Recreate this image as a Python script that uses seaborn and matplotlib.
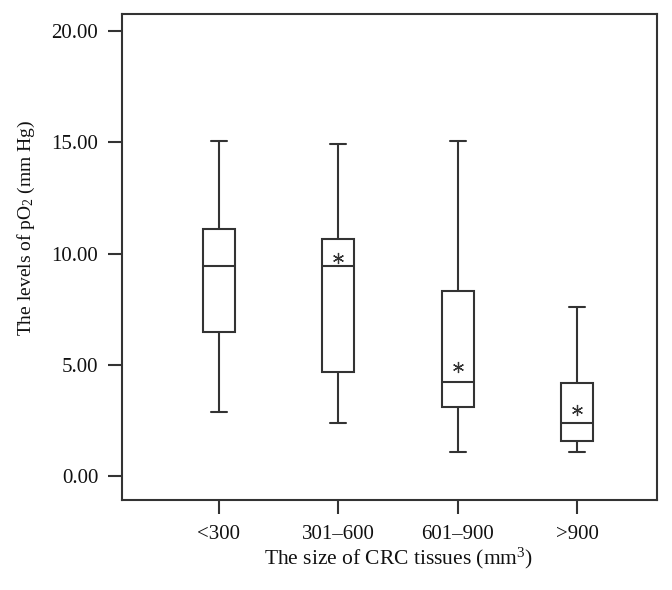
import matplotlib
matplotlib.use("Agg")
import matplotlib.pyplot as plt
import numpy as np
import pandas as pd
import seaborn as sns

# five-number summaries (lower whisker, Q1, median, Q3, upper whisker)
categories = ["<300", "301\u2013600", "601\u2013900", ">900"]
lower = [2.91, 2.38, 1.11, 1.11]
q1 = [6.47, 4.69, 3.12, 1.57]
median = [9.47, 9.47, 4.24, 2.40]
q3 = [11.10, 10.64, 8.31, 4.21]
upper = [15.07, 14.92, 15.07, 7.60]
# asterisk marks (no mark for the first group)
star_y = [np.nan, 9.83, 4.91, 2.97]

rows = []
for i, cat in enumerate(categories):
    for v in (lower[i], q1[i], median[i], q3[i], upper[i]):
        rows.append({"size": cat, "po2": v})
df = pd.DataFrame(rows)

sns.set_style("ticks")
plt.rcParams["font.family"] = ["Liberation Serif", "DejaVu Serif"]
plt.rcParams["mathtext.fontset"] = "custom"
plt.rcParams["mathtext.rm"] = "Liberation Serif"
plt.rcParams["mathtext.it"] = "Liberation Serif:italic"

ink = "#333333"
fig = plt.figure(figsize=(6.72, 5.90), dpi=100)
ax = fig.add_axes([0.1815, 0.153, 0.7965, 0.823])

# with 5 points, linear percentiles give exactly q1/median/q3 at the 2nd/3rd/4th values
sns.boxplot(data=df, x="size", y="po2", order=categories, whis=(0, 100),
            color="white", linecolor=ink, linewidth=1.5, width=0.265, ax=ax)

ax.plot(range(len(categories)), star_y, linestyle="none", marker=(6, 2, 0),
        markersize=8, markeredgewidth=0.9, color=ink)

ax.set_xlim(-0.81, 3.67)
ax.set_ylim(-1.05, 20.76)
ax.set_yticks([0, 5, 10, 15, 20])
ax.set_yticklabels([f"{t:.2f}" for t in [0, 5, 10, 15, 20]])

for s in ax.spines.values():
    s.set_visible(True)
    s.set_color(ink)
    s.set_linewidth(1.5)
ax.tick_params(direction="out", length=10, width=1.5, color=ink,
               labelsize=15, labelcolor="#111111")
ax.tick_params(axis="y", pad=7)
ax.tick_params(axis="x", pad=8)

ax.set_xlabel("The size of CRC tissues (mm$^3$)", fontsize=15.5, color="#111111")
ax.set_ylabel("The levels of pO$_2$ (mm Hg)", fontsize=14, color="#111111")
ax.xaxis.set_label_coords(0.516, -0.095)
ax.yaxis.set_label_coords(-0.158, 0.56)

fig.savefig("out.png", dpi=100, facecolor="white")
